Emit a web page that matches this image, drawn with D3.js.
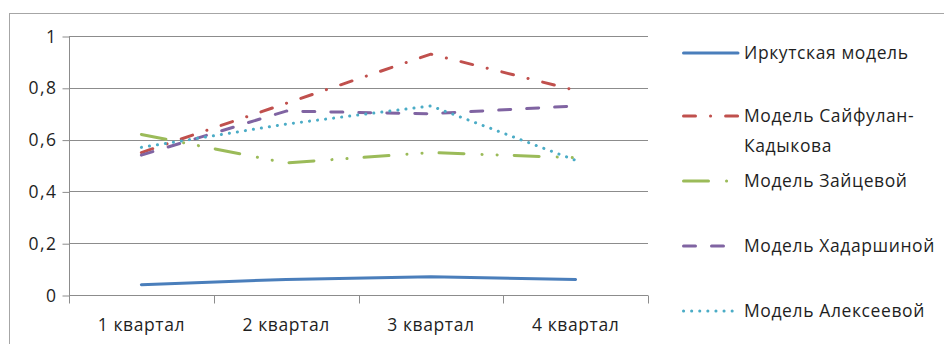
<!DOCTYPE html>
<html>
<head>
<meta charset="utf-8">
<script src="https://cdn.jsdelivr.net/npm/d3@7/dist/d3.min.js"></script>
<style>
  html, body { margin: 0; padding: 0; background: #fff; }
  svg { display: block; }
  text { font-family: "Open Sans", "Liberation Sans", sans-serif; fill: #1f1f1f; }
</style>
</head>
<body>
<svg id="chart" width="944" height="344"></svg>
<script>
// Quarters on the x axis
const categories = ["1 квартал", "2 квартал", "3 квартал", "4 квартал"];

// Series values per quarter
const irkutsk    = [0.04, 0.06, 0.07, 0.06];
const sayfulan   = [0.55, 0.74, 0.93, 0.79];
const zaytseva   = [0.62, 0.51, 0.55, 0.53];
const khadarshina = [0.54, 0.71, 0.70, 0.73];
const alekseeva  = [0.57, 0.66, 0.73, 0.52];

// Y axis ticks
const yTicks = [0, 0.2, 0.4, 0.6, 0.8, 1];

const seriesNames = ["Иркутская модель", "Модель Сайфулан-Кадыкова", "Модель Зайцевой", "Модель Хадаршиной", "Модель Алексеевой"];

const FONT_SIZE = 17.5;

const series = [
  { name: seriesNames[0], values: irkutsk,     color: "#4a7ebb", dash: null,                    legendY: 53,  lines: ["Иркутская модель"] },
  { name: seriesNames[1], values: sayfulan,    color: "#c0504d", dash: "12,15,0.1,15",          legendY: 116, lines: ["Модель Сайфулан-", "Кадыкова"] },
  { name: seriesNames[2], values: zaytseva,    color: "#9bbb59", dash: "25,18,0.1,15,0.1,17",   legendY: 181, lines: ["Модель Зайцевой"] },
  { name: seriesNames[3], values: khadarshina, color: "#8064a2", dash: "12,16",                 legendY: 246, lines: ["Модель Хадаршиной"] },
  { name: seriesNames[4], values: alekseeva,   color: "#4bacc6", dash: "0.1,8",                 legendY: 311, lines: ["Модель Алексеевой"] }
];

const svg = d3.select("#chart");

// Outer chart frame (runs off the right and bottom edges)
svg.append("rect")
  .attr("x", 9.5).attr("y", 13.5)
  .attr("width", 1200).attr("height", 1200)
  .attr("fill", "none").attr("stroke", "#a6a6a6").attr("stroke-width", 1);

const plot = { left: 69, right: 648, top: 36, bottom: 295 };

const x = d3.scaleBand().domain(categories).range([plot.left, plot.right]).padding(0);
const y = d3.scaleLinear().domain([0, 1]).range([plot.bottom, plot.top]);

// Horizontal gridlines
svg.append("g")
  .selectAll("line")
  .data(yTicks.filter(d => d > 0))
  .join("line")
  .attr("x1", plot.left).attr("x2", plot.right)
  .attr("y1", d => Math.round(y(d)) + 0.5).attr("y2", d => Math.round(y(d)) + 0.5)
  .attr("stroke", "#8c8c8c").attr("stroke-width", 1);

// Y axis
const yAxis = d3.axisLeft(y)
  .tickValues(yTicks)
  .tickSize(7)
  .tickPadding(6)
  .tickFormat(d => d3.format("~g")(d).replace(".", ","));

const gy = svg.append("g")
  .attr("transform", `translate(${plot.left + 0.5},0.5)`)
  .call(yAxis);
gy.select(".domain").attr("stroke", "#8c8c8c").attr("d", `M0,${plot.top}V${plot.bottom}`);
gy.selectAll(".tick line").attr("stroke", "#8c8c8c");
gy.selectAll(".tick text")
  .attr("font-family", "\"Open Sans\", sans-serif")
  .attr("font-size", FONT_SIZE).attr("fill", "#1f1f1f").attr("x", -12)
  .attr("letter-spacing", 1.5);

// X axis with ticks at band boundaries
const gx = svg.append("g")
  .attr("transform", `translate(0,${plot.bottom + 0.5})`);
gx.append("line")
  .attr("x1", plot.left).attr("x2", plot.right)
  .attr("stroke", "#8c8c8c");
const boundaries = categories.map(c => x(c)).concat([x(categories[categories.length - 1]) + x.bandwidth()]);
gx.selectAll("line.tk")
  .data(boundaries)
  .join("line")
  .attr("class", "tk")
  .attr("x1", d => Math.round(d) + 0.5).attr("x2", d => Math.round(d) + 0.5)
  .attr("y1", 0).attr("y2", 8)
  .attr("stroke", "#8c8c8c");
gx.selectAll("text")
  .data(categories)
  .join("text")
  .attr("x", d => x(d) + x.bandwidth() / 2)
  .attr("y", 29)
  .attr("dy", "0.35em")
  .attr("text-anchor", "middle")
  .attr("font-size", FONT_SIZE)
  .attr("letter-spacing", 0.6)
  .text(d => d);

// Series lines
const line = d3.line()
  .x((d, i) => x(categories[i]) + x.bandwidth() / 2)
  .y(d => y(d));

svg.append("g")
  .selectAll("path")
  .data(series)
  .join("path")
  .attr("d", d => line(d.values))
  .attr("fill", "none")
  .attr("stroke", d => d.color)
  .attr("stroke-width", 3)
  .attr("stroke-linecap", "round")
  .attr("stroke-linejoin", "round")
  .attr("stroke-dasharray", d => d.dash);

// Legend
const legend = svg.append("g");
const lg = legend.selectAll("g")
  .data(series)
  .join("g");
lg.append("line")
  .attr("x1", 683.5).attr("x2", 738)
  .attr("y1", d => d.legendY).attr("y2", d => d.legendY)
  .attr("stroke", d => d.color)
  .attr("stroke-width", 3)
  .attr("stroke-linecap", "round")
  .attr("stroke-dasharray", d => d.dash);
lg.each(function (d) {
  const g = d3.select(this);
  d.lines.forEach((t, i) => {
    g.append("text")
      .attr("x", 744)
      .attr("y", d.legendY + i * 30)
      .attr("dy", "0.35em")
      .attr("font-size", FONT_SIZE)
      .attr("letter-spacing", 0.6)
      .text(t);
  });
});
</script>
</body>
</html>
